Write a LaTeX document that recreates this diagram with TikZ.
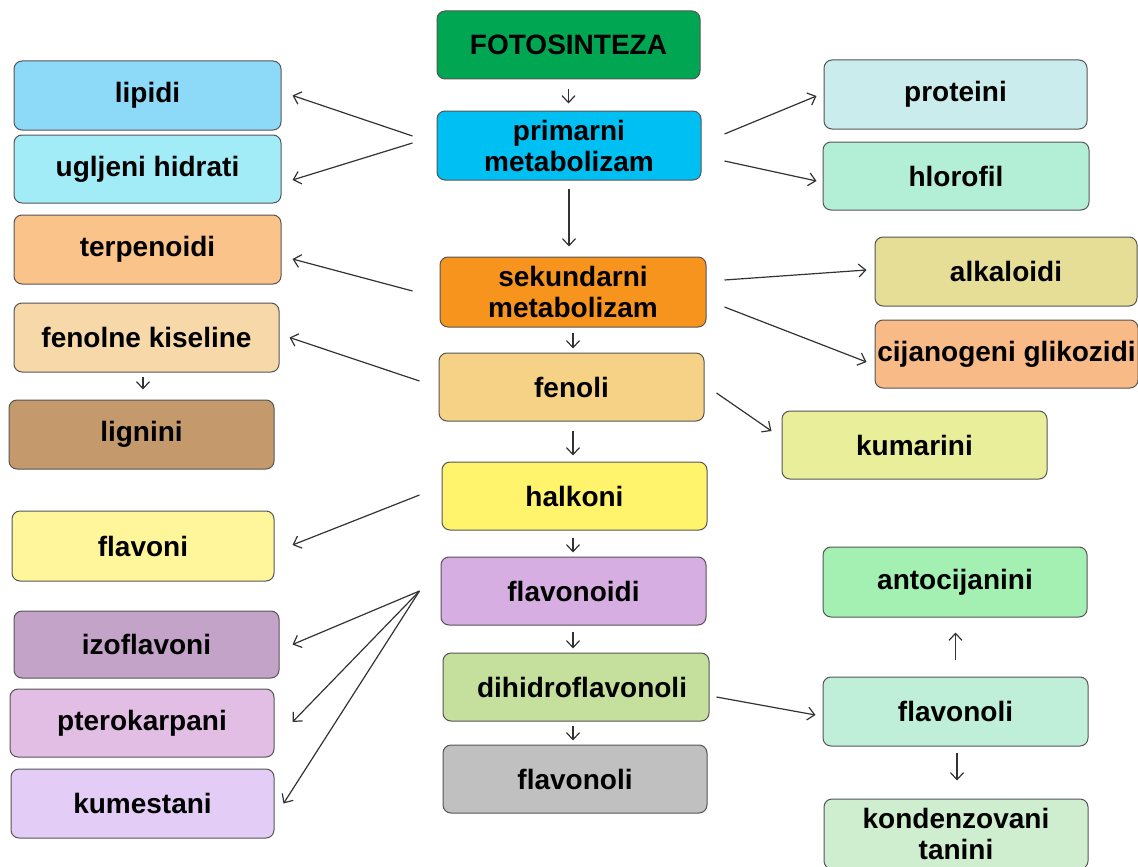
\documentclass[tikz,border=0pt]{standalone}
\usepackage{fontspec}
\setmainfont{Liberation Sans}
\usetikzlibrary{arrows.meta,calc}
\definecolor{cFoto}{HTML}{00A651}
\definecolor{cPrim}{HTML}{00BFF3}
\definecolor{cLip}{HTML}{8DD9F8}
\definecolor{cUgl}{HTML}{A2ECF8}
\definecolor{cProt}{HTML}{CAECEC}
\definecolor{cHlor}{HTML}{B3EED6}
\definecolor{cTerp}{HTML}{F9C38A}
\definecolor{cSek}{HTML}{F7941D}
\definecolor{cAlk}{HTML}{E6DE97}
\definecolor{cCij}{HTML}{F8BA86}
\definecolor{cFenK}{HTML}{F6D8A9}
\definecolor{cFen}{HTML}{F6D286}
\definecolor{cLig}{HTML}{C49A6C}
\definecolor{cKum}{HTML}{E8EE9A}
\definecolor{cHal}{HTML}{FFF46C}
\definecolor{cFlavn}{HTML}{FFF69B}
\definecolor{cFlvd}{HTML}{D6AEE2}
\definecolor{cAnt}{HTML}{A4F0B3}
\definecolor{cIzo}{HTML}{C4A3C8}
\definecolor{cDih}{HTML}{C5DF9C}
\definecolor{cFlR}{HTML}{BFEFD8}
\definecolor{cPte}{HTML}{E2BDE4}
\definecolor{cFlC}{HTML}{C0C0C0}
\definecolor{cKms}{HTML}{E3CCF6}
\definecolor{cKon}{HTML}{CEEECF}
\definecolor{cEdge}{HTML}{555555}
\definecolor{cArr}{HTML}{333333}
\tikzset{
  box/.style={draw=cEdge, line width=1pt, rounded corners=8pt, align=center,
    inner sep=0pt, font=\fontsize{28}{31}\selectfont\bfseries, text=black},
  arr/.style={draw=cArr, line width=1.2pt, -{Straight Barb[length=7pt,width=13pt]}}
}
\begin{document}
\begin{tikzpicture}[x=1pt,y=-1pt]
\useasboundingbox (0,0) rectangle (1138,867);
% nodes: centers and sizes in pixel units
\node[box, fill=cFoto, minimum width=263pt, minimum height=68pt] (foto) at (568.5,45) {FOTOSINTEZA};
\node[box, fill=cPrim, minimum width=264pt, minimum height=69pt] (prim) at (569,145.5) {primarni\\metabolizam};
\node[box, fill=cLip, minimum width=267pt, minimum height=69pt] (lip) at (147.5,95.5) {lipidi};
\node[box, fill=cUgl, minimum width=267pt, minimum height=68pt] (ugl) at (147.5,169) {ugljeni hidrati};
\node[box, fill=cProt, minimum width=263pt, minimum height=69pt] (prot) at (955.5,94.5) {proteini};
\node[box, fill=cHlor, minimum width=266pt, minimum height=68pt] (hlor) at (956,176) {hlorofil};
\node[box, fill=cTerp, minimum width=267pt, minimum height=69pt] (terp) at (147.5,249.5) {terpenoidi};
\node[box, fill=cSek, minimum width=266pt, minimum height=70pt] (sek) at (573,292) {sekundarni\\metabolizam};
\node[box, fill=cAlk, minimum width=262pt, minimum height=69pt] (alk) at (1006,271.5) {alkaloidi};
\node[box, fill=cCij, minimum width=263pt, minimum height=68pt] (cij) at (1006.5,354) {cijanogeni glikozidi};
\node[box, fill=cFenK, minimum width=265pt, minimum height=69pt] (fenk) at (146.5,337.5) {fenolne kiseline};
\node[box, fill=cFen, minimum width=265pt, minimum height=68pt] (fen) at (571.5,387) {fenoli};
\node[box, fill=cLig, minimum width=265pt, minimum height=69pt] (lig) at (141.5,434.5) {lignini};
\node[box, fill=cKum, minimum width=265pt, minimum height=68pt] (kum) at (914.5,445) {kumarini};
\node[box, fill=cHal, minimum width=265pt, minimum height=68pt] (hal) at (574.5,496) {halkoni};
\node[box, fill=cFlavn, minimum width=262pt, minimum height=70pt] (flvn) at (143,546) {flavoni};
\node[box, fill=cFlvd, minimum width=265pt, minimum height=68pt] (flvd) at (573.5,591) {flavonoidi};
\node[box, fill=cAnt, minimum width=264pt, minimum height=70pt] (ant) at (955,582) {antocijanini};
\node[box, fill=cIzo, minimum width=265pt, minimum height=67pt] (izo) at (146.5,644.5) {izoflavoni};
\node[box, fill=cDih, minimum width=266pt, minimum height=68pt] (dih) at (576,687) {\hspace*{12pt}dihidroflavonoli};
\node[box, fill=cFlR, minimum width=265pt, minimum height=69pt] (flr) at (955.5,711.5) {flavonoli};
\node[box, fill=cPte, minimum width=264pt, minimum height=68pt] (pte) at (142,723) {pterokarpani};
\node[box, fill=cFlC, minimum width=264pt, minimum height=68pt] (flc) at (575,779) {flavonoli};
\node[box, fill=cKms, minimum width=263pt, minimum height=69pt] (kms) at (142.5,803.5) {kumestani};
\node[box, fill=cKon, minimum width=264pt, minimum height=70pt] (kon) at (956,834) {kondenzovani\\tanini};
% connectors
\draw[arr] ($(foto.south)+(0,9)$) -- ($(foto.south |- prim.north)+(0,-7)$);
\draw[arr] ($(prim.west)+(-24,-9.5)$) -- ($(lip.east)+(11,0)$);
\draw[arr] ($(prim.west)+(-24,-2.5)$) -- ($(ugl.east)+(11,11)$);
\draw[arr] ($(prim.east)+(23,-11.5)$) -- ($(prot.west)+(-7,1.5)$);
\draw[arr] ($(prim.east)+(23,15.5)$) -- ($(hlor.west)+(-6,5)$);
\draw[arr] ($(prim.south)+(0,8)$) -- ($(prim.south |- sek.north)+(0,-10)$);
\draw[arr] ($(sek.west)+(-27,-1)$) -- ($(terp.east)+(11,9.5)$);
\draw[arr] ($(sek.east)+(18,-12)$) -- ($(alk.west)+(-8,-1.5)$);
\draw[arr] ($(sek.east)+(18,15)$) -- ($(cij.west)+(-8,8)$);
\draw[arr] ($(sek.south)+(0,5)$) -- ($(sek.south |- fen.north)+(0,-4)$);
\draw[arr] ($(fen.west)+(-19,-6)$) -- ($(fenk.east)+(10,0)$);
\draw[arr] ($(fenk.south)+(-3.5,4)$) -- ($(fenk.south |- lig.north)+(-3.5,-10)$);
\draw[arr] ($(fen.east)+(12,6)$) -- ($(kum.west)+(-10,-14)$);
\draw[arr] ($(fen.south)+(1.5,9)$) -- ($(fen.south |- hal.north)+(1.5,-6)$);
\draw[arr] ($(hal.west)+(-22,-1)$) -- ($(flvn.east)+(18,-1)$);
\draw[arr] ($(hal.south)+(-1.5,7)$) -- ($(hal.south |- flvd.north)+(-1.5,-4)$);
\draw[arr] ($(flvd.west)+(-21,0)$) -- ($(izo.east)+(13,0)$);
\draw[arr] ($(flvd.west)+(-21,0)$) -- ($(pte.east)+(18,-1)$);
\draw[arr] ($(flvd.west)+(-21,0)$) -- ($(kms.east)+(9,0)$);
\draw[arr] ($(flvd.south)+(-0.5,6)$) -- ($(flvd.south |- dih.north)+(-0.5,-4)$);
\draw[arr] ($(dih.east)+(7,10)$) -- ($(flr.west)+(-7,3.5)$);
\draw[arr] ($(dih.south)+(-3,4)$) -- ($(dih.south |- flc.north)+(-3,-4)$);
\draw[arr] ($(flr.north)+(0,-17)$) -- ($(flr.north |- ant.south)+(0,15)$);
\draw[arr] ($(flr.south)+(1.5,6)$) -- ($(flr.south |- kon.north)+(1.5,-18)$);
\end{tikzpicture}
\end{document}
